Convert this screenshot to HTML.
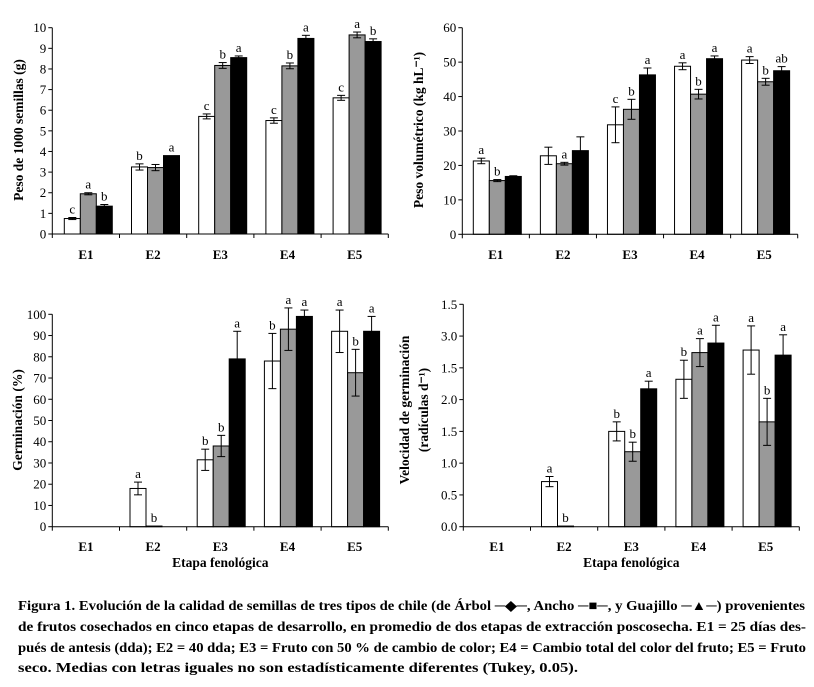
<!DOCTYPE html>
<html><head><meta charset="utf-8"><style>
body{margin:0;background:#fff;}
svg text{font-family:"Liberation Serif",serif;}
</style></head><body>
<svg id="s" width="814" height="682" viewBox="0 0 814 682" xmlns="http://www.w3.org/2000/svg">
<g id="charts"></g>
<g font-weight="bold" font-size="13.5">
<text x="18" y="610" textLength="787" lengthAdjust="spacingAndGlyphs">Figura 1. Evolución de la calidad de semillas de tres tipos de chile (de Árbol ─◆─, Ancho ─■─, y Guajillo ─▲─) provenientes</text>
<text x="18" y="631" textLength="788" lengthAdjust="spacingAndGlyphs">de frutos cosechados en cinco etapas de desarrollo, en promedio de dos etapas de extracción poscosecha. E1 = 25 días des-</text>
<text x="18" y="652" textLength="788" lengthAdjust="spacingAndGlyphs">pués de antesis (dda); E2 = 40 dda; E3 = Fruto con 50 % de cambio de color; E4 = Cambio total del color del fruto; E5 = Fruto</text>
<text x="18" y="672" textLength="560" lengthAdjust="spacingAndGlyphs">seco. Medias con letras iguales no son estadísticamente diferentes (Tukey, 0.05).</text>
</g>
</svg>
<script>
const categories = ["E1","E2","E3","E4","E5"];
// Panel 1: Peso de 1000 semillas
const p1White = [0.75,3.25,5.7,5.5,6.6];
const p1Gray  = [1.95,3.22,8.17,8.15,9.65];
const p1Black = [1.35,3.8,8.55,9.48,9.33];
const p1WhiteErr = [0.05,0.15,0.12,0.13,0.12];
const p1GrayErr  = [0.05,0.15,0.14,0.14,0.14];
const p1BlackErr = [0.08,0,0.08,0.15,0.13];
const p1Letters = [["c","a","b"],["b","","a"],["c","b","a"],["c","b","a"],["c","a","b"]];
const p1Ticks = ["0","1","2","3","4","5","6","7","8","9","10"];
// Panel 2: Peso volumetrico
const p2White = [21.3,22.8,31.8,48.8,50.6];
const p2Gray  = [15.6,20.5,36.3,40.7,44.3];
const p2Black = [16.8,24.3,46.3,51,47.5];
const p2WhiteErr = [0.8,2.5,5.2,1,1];
const p2GrayErr  = [0.3,0.4,2.9,1.4,1];
const p2BlackErr = [0.2,4,2,0.8,1.2];
const p2Letters = [["a","b",""],["","a",""],["c","b","a"],["a","b","a"],["a","b","ab"]];
const p2Ticks = ["0","10","20","30","40","50","60"];
// Panel 3: Germinacion
const p3White = [0,18,31.5,78,92];
const p3Gray  = [0,0.3,38,93,72.5];
const p3Black = [0,0,79,99,92];
const p3WhiteErr = [0,3,5,13,10];
const p3GrayErr  = [0,0,5,10,11];
const p3BlackErr = [0,0,13,3,7];
const p3Letters = [["","",""],["a","b",""],["b","b","a"],["b","a","a"],["a","b","a"]];
const p3Ticks = ["0","10","20","30","40","50","60","70","80","90","100"];
// Panel 4: Velocidad de germinacion
const p4White = [0,0.71,1.5,2.32,2.78];
const p4Gray  = [0,0.01,1.18,2.74,1.65];
const p4Black = [0,0,2.17,2.89,2.7];
const p4WhiteErr = [0,0.08,0.15,0.3,0.38];
const p4GrayErr  = [0,0,0.15,0.22,0.37];
const p4BlackErr = [0,0,0.12,0.28,0.32];
const p4Letters = [["","",""],["a","b",""],["b","b","a"],["b","a","a"],["a","b","a"]];
const p4Ticks = ["0.0","0.5","1.0","1.5","2.0","1.5","3.0","1.5"];

const NS="http://www.w3.org/2000/svg";
const root=document.getElementById('charts');
function mk(tag,attrs,parent){const e=document.createElementNS(NS,tag);for(const k in attrs)e.setAttribute(k,attrs[k]);parent.appendChild(e);return e;}

function panel(p){
  const g=mk('g',{},root);
  
  
  const y=v=>p.y0-(v/p.max)*(p.y0-p.yTop);
  const gw=(p.x1-p.x0)/categories.length;
  const bw=16;
  // y ticks
  const nt=p.ticks.length;
  for(let i=0;i<nt;i++){
    const v=p.max*i/(nt-1), yy=y(v);
    mk('line',{x1:p.x0-4,x2:p.x0,y1:yy,y2:yy,stroke:'#000','stroke-width':1},g);
    const t=mk('text',{x:p.x0-6,y:yy+4.5,'text-anchor':'end','font-size':13},g);
    t.textContent=p.ticks[i];
    
    
  }
  const series=[[p.white,p.wErr,'#fff'],[p.gray,p.gErr,'#999'],[p.black,p.bErr,'#000']];
  categories.forEach((c,ci)=>{
    const gx=p.x0+ci*gw;
    mk('line',{x1:gx,x2:gx,y1:p.y0,y2:p.y0+4,stroke:'#000'},g);
    series.forEach((s,si)=>{
      const v=s[0][ci], e=s[1][ci];
      const bx=gx+p.off+si*bw;
      if(v>0){
        const r=mk('rect',{x:bx,y:y(v),width:bw,height:p.y0-y(v),fill:s[2],stroke:'#000','stroke-width':1},g);
        
        
      }
      let top=y(v);
      if(e>0){
        const cx=bx+bw/2;
        mk('line',{x1:cx,x2:cx,y1:y(v-e),y2:y(v+e),stroke:'#000'},g);
        mk('line',{x1:cx-4,x2:cx+4,y1:y(v+e),y2:y(v+e),stroke:'#000'},g);
        mk('line',{x1:cx-4,x2:cx+4,y1:y(v-e),y2:y(v-e),stroke:'#000'},g);
        top=y(v+e);
      }
      const L=p.letters[ci][si];
      if(L){
        const t=mk('text',{x:bx+bw/2,y:top-4,'text-anchor':'middle','font-size':13},g);
        t.textContent=L;
        
        
      }
    });
    const t=mk('text',{x:gx+gw/2,y:p.catY,'text-anchor':'middle','font-size':13,'font-weight':'bold'},g);
    t.textContent=c;
    
    
  });
  mk('line',{x1:p.x1,x2:p.x1,y1:p.y0,y2:p.y0+4,stroke:'#000'},g);
  mk('line',{x1:p.x0,x2:p.x0,y1:p.yTop,y2:p.y0,stroke:'#000'},g);
  mk('line',{x1:p.x0,x2:p.x1,y1:p.y0,y2:p.y0,stroke:'#000'},g);
  p.titles.forEach(tt=>{
    const t=mk('text',{x:0,y:0,transform:`translate(${tt[0]},${tt[1]}) rotate(-90)`,'text-anchor':'middle','font-size':13.5,'font-weight':'bold'},g);
    t.textContent=tt[2];
    
    
  });
  if(p.xTitle){
    const t=mk('text',{x:(p.x0+p.x1)/2,y:p.xTitleY,'text-anchor':'middle','font-size':13.5,'font-weight':'bold'},g);
    t.textContent=p.xTitle;
    
    
  }
}
panel({name:'chart-seed-weight',x0:52.3,x1:388.3,y0:234,yTop:27.7,max:10,off:12,ticks:p1Ticks,white:p1White,gray:p1Gray,black:p1Black,wErr:p1WhiteErr,gErr:p1GrayErr,bErr:p1BlackErr,letters:p1Letters,catY:259,titles:[[23,130,'Peso de 1000 semillas (g)']]});
panel({name:'chart-volumetric-weight',x0:462.3,x1:797.7,y0:234.3,yTop:27.7,max:60,off:11,ticks:p2Ticks,white:p2White,gray:p2Gray,black:p2Black,wErr:p2WhiteErr,gErr:p2GrayErr,bErr:p2BlackErr,letters:p2Letters,catY:259,titles:[[423,130,'Peso volumétrico (kg hL⁻¹)']]});
panel({name:'chart-germination',x0:52.3,x1:388.3,y0:526.7,yTop:314.3,max:100,off:10.5,ticks:p3Ticks,white:p3White,gray:p3Gray,black:p3Black,wErr:p3WhiteErr,gErr:p3GrayErr,bErr:p3BlackErr,letters:p3Letters,catY:551,titles:[[22,420,'Germinación (%)']],xTitle:'Etapa fenológica',xTitleY:567});
panel({name:'chart-germination-speed',x0:463.3,x1:799.3,y0:526.7,yTop:304.3,max:3.5,off:11,ticks:p4Ticks,white:p4White,gray:p4Gray,black:p4Black,wErr:p4WhiteErr,gErr:p4GrayErr,bErr:p4BlackErr,letters:p4Letters,catY:551,titles:[[409,410,'Velocidad de germinación'],[428,410,'(radículas d⁻¹)']],xTitle:'Etapa fenológica',xTitleY:567});
</script>
</body></html>
